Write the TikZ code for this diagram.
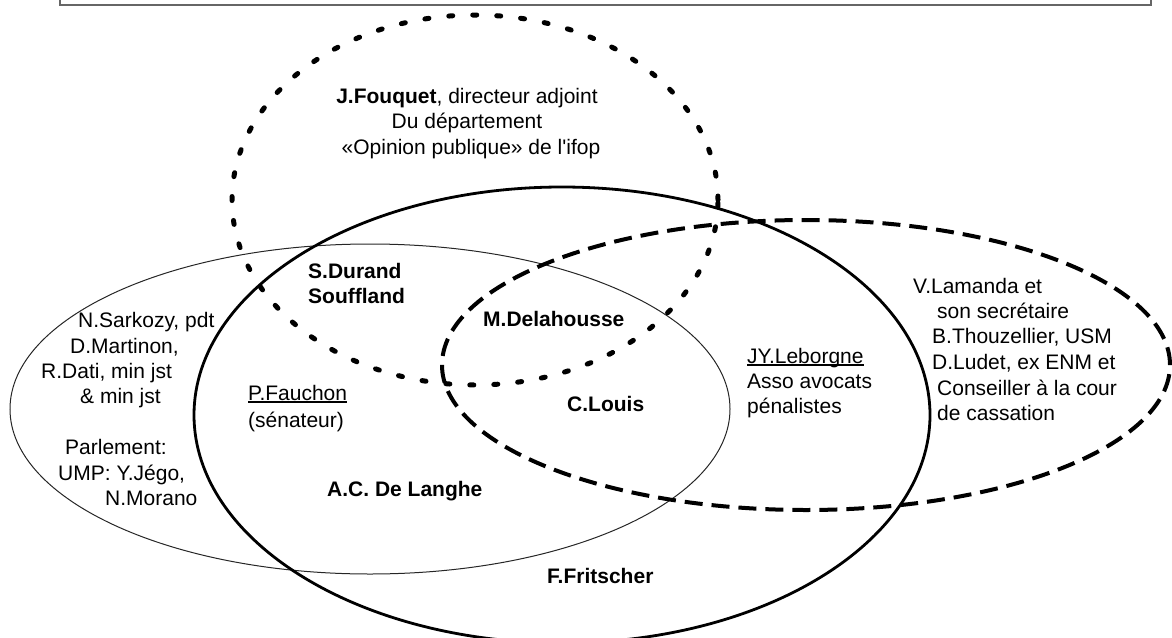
\documentclass[tikz,border=0pt]{standalone}
\usepackage{fontspec}
\newfontfamily\lib{Liberation Sans}
\newcommand\myul[1]{\setbox0\hbox{#1}\rlap{\rule[-2.5pt]{\wd0}{1.1pt}}\box0}
\tikzset{
  lbl/.style={anchor=base west, inner sep=0pt, font=\lib\fontsize{21}{25.5}\selectfont},
  clbl/.style={lbl, anchor=base},
  dotring/.style={line width=5pt, line cap=round, dash pattern=on 4pt off 20pt},
  dashring/.style={line width=4pt, dash pattern=on 18pt off 9pt},
  thickring/.style={line width=2.8pt},
  thinring/.style={line width=1pt, black!85},
  topbox/.style={draw=black!60, line width=1.6pt}
}
\begin{document}
\begin{tikzpicture}[x=1pt,y=-1pt]
\useasboundingbox (0,0) rectangle (1172,637);
\clip (0,0) rectangle (1172,637);
% top box
\draw[topbox] (60,-30) rectangle (1151,5);
% rings
\draw[thinring] (370,409) ellipse [x radius=360pt, y radius=165pt];
\draw[thickring] (562,415) ellipse [x radius=368pt, y radius=228pt];
\draw[dashring] (806,365) ellipse [x radius=364pt, y radius=145pt];
\draw[dotring] (475,200) ellipse [x radius=243pt, y radius=185pt];
% Fouquet
\node[clbl] (f1) at (467,103) {\bfseries J.Fouquet\mdseries, directeur adjoint};
\node[clbl] (f2) at (467,128) {Du département};
\node[clbl] (f3) at (471,154) {«Opinion publique» de l'ifop};
% left block
\node[lbl] (l1) at (78,327) {N.Sarkozy, pdt};
\node[lbl] (l2) at (70,353) {D.Martinon,};
\node[lbl] (l3) at (41,378) {R.Dati, min jst};
\node[lbl] (l4) at (80,403) {\& min jst};
\node[lbl] (l5) at (65,454) {Parlement:};
\node[lbl] (l6) at (58,480) {UMP: Y.Jégo,};
\node[lbl] (l7) at (105,505) {N.Morano};
% center
\node[lbl] (sd1) at (308,278) {\bfseries S.Durand};
\node[lbl] (sd2) at (308,303) {\bfseries Souffland};
\node[lbl] (md) at (483,326) {\bfseries M.Delahousse};
\node[lbl] (pf1) at (248,400) {\myul{P.Fauchon}};
\node[lbl] (pf2) at (248,427) {(sénateur)};
\node[lbl] (cl) at (567,411) {\bfseries C.Louis};
\node[lbl] (ac) at (327,496) {\bfseries A.C. De Langhe};
\node[lbl] (ff) at (547,583) {\bfseries F.Fritscher};
% Leborgne
\node[lbl] (jy1) at (747,363) {\myul{JY.Leborgne}};
\node[lbl] (jy2) at (747,388) {Asso avocats};
\node[lbl] (jy3) at (747,413) {pénalistes};
% right block
\node[lbl] (r1) at (913,293) {V.Lamanda et};
\node[lbl] (r2) at (937,318) {son secrétaire};
\node[lbl] (r3) at (932,343) {B.Thouzellier, USM};
\node[lbl] (r4) at (932,369) {D.Ludet, ex ENM et};
\node[lbl] (r5) at (937,395) {Conseiller à la cour};
\node[lbl] (r6) at (937,420) {de cassation};
\end{tikzpicture}
\end{document}
